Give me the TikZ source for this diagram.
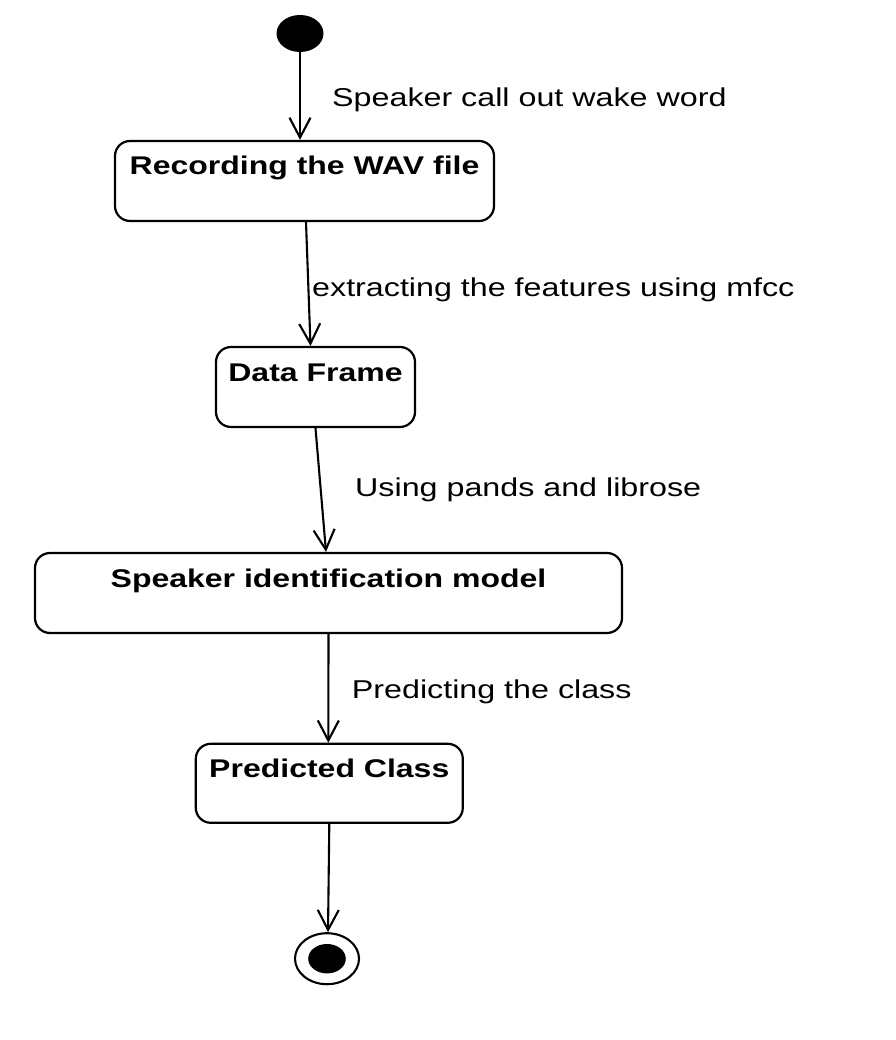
\documentclass[tikz,border=0pt]{standalone}
\usepackage{graphicx}
\usepackage{fontspec}
\setmainfont{Liberation Sans}
\usetikzlibrary{arrows.meta,shapes.geometric}
\newcommand{\wide}[1]{\scalebox{1.25}[1]{#1}}
\tikzset{
  statebox/.style={draw=black, fill=white, line width=2.2pt, rounded corners=15pt,
    inner sep=0pt, text height=18pt, text depth=30pt,
    font=\fontsize{25.6}{30}\selectfont\bfseries},
  flow/.style={line width=2.1pt, -{Straight Barb[length=20pt,width=21pt,line width=2.1pt]}},
  lbl/.style={anchor=base west, inner sep=0pt, font=\fontsize{25.8}{30}\selectfont},
}
\begin{document}
\begin{tikzpicture}[x=1pt,y=-1pt]
\useasboundingbox[fill=white] (0,0) rectangle (895,1040);

\node[ellipse, fill=black, minimum width=47pt, minimum height=37pt, inner sep=0pt] (start) at (300,33.5) {};

\node[statebox, minimum width=379pt, minimum height=80pt] (b1) at (304.5,181) {\wide{Recording the WAV file}};
\node[statebox, minimum width=199pt, minimum height=80pt] (b2) at (315.5,387) {\wide{Data Frame}};
\node[statebox, minimum width=587pt, minimum height=80pt] (b3) at (328.5,593) {\wide{Speaker identification model}};
\node[statebox, minimum width=267pt, minimum height=79pt] (b4) at (329.3,783.3) {\wide{Predicted Class}};

\node[ellipse, draw=black, line width=2.1pt, fill=white, minimum width=64pt, minimum height=51pt, inner sep=0pt] (fin) at (327,958.7) {};
\node[ellipse, fill=black, minimum width=37.6pt, minimum height=29.4pt, inner sep=0pt] (finin) at (fin.center) {};

\draw[flow] (start.south) -- ([xshift=-4.5pt]b1.north);
\draw[flow] ([xshift=1.5pt]b1.south) -- ([xshift=-5pt]b2.north);
\draw[flow] (b2.south) -- ([xshift=-2.5pt]b3.north);
\draw[flow] (b3.south) -- ([xshift=-1pt]b4.north);
\draw[flow] (b4.south) -- ([xshift=1pt]fin.north);

\node[lbl] (l1) at (332,106.7) {\wide{Speaker call out wake word}};
\node[lbl] (l2) at (312,296.7) {\wide{extracting the features using mfcc}};
\node[lbl] (l3) at (355,496) {\wide{Using pands and librose}};
\node[lbl] (l4) at (351.7,698.7) {\wide{Predicting the class}};
\end{tikzpicture}
\end{document}
